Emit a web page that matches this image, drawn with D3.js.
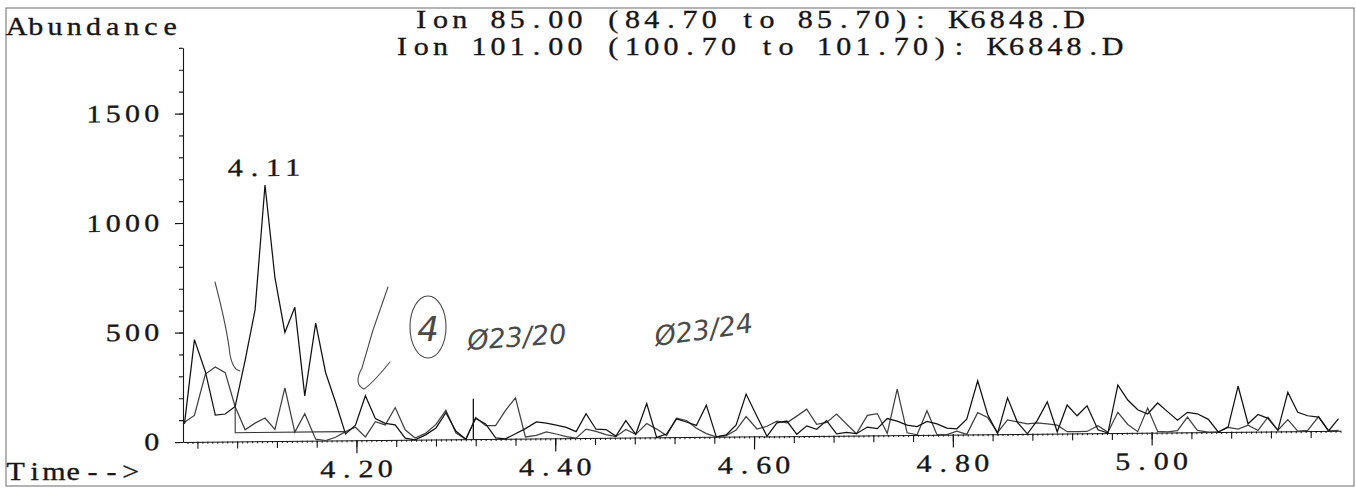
<!DOCTYPE html>
<html>
<head>
<meta charset="utf-8">
<script src="https://cdn.jsdelivr.net/npm/d3@7"></script>
<style>
  html, body { margin: 0; padding: 0; background: #fff; }
  svg { display: block; }
</style>
</head>
<body>
<svg id="chart" width="1356" height="488"></svg>
<script>
// Extracted ion chromatogram, K6848.D — ions 85 and 101, 4.03–5.19 min

const scanTimes = [
  4.027, 4.037, 4.048, 4.058, 4.068, 4.078, 4.088, 4.098, 4.108, 4.118,
  4.128, 4.138, 4.148, 4.159, 4.169, 4.179, 4.189, 4.199, 4.209, 4.219,
  4.229, 4.239, 4.249, 4.259, 4.270, 4.280, 4.290, 4.300, 4.310, 4.320,
  4.330, 4.340, 4.350, 4.360, 4.370, 4.381, 4.391, 4.401, 4.411, 4.421,
  4.431, 4.441, 4.451, 4.461, 4.471, 4.481, 4.492, 4.502, 4.512, 4.522,
  4.532, 4.542, 4.552, 4.562, 4.572, 4.582, 4.592, 4.603, 4.613, 4.623,
  4.633, 4.643, 4.653, 4.663, 4.673, 4.683, 4.693, 4.703, 4.714, 4.724,
  4.734, 4.744, 4.754, 4.764, 4.774, 4.784, 4.794, 4.804, 4.814, 4.825,
  4.835, 4.845, 4.855, 4.865, 4.875, 4.885, 4.895, 4.905, 4.915, 4.925,
  4.935, 4.946, 4.956, 4.966, 4.976, 4.986, 4.996, 5.006, 5.016, 5.026,
  5.036, 5.046, 5.057, 5.067, 5.077, 5.087, 5.097, 5.107, 5.117, 5.127,
  5.137, 5.147, 5.157, 5.168, 5.178, 5.188
];

// Ion 85.00 abundance per scan
const ion85 = [
    83, 467, 320, 121, 126, 160, 370, 600, 1170, 746,
   496, 610, 205, 537, 310, 175,  30,  69, 203,  99,
    76,  69,   8,   0,  23,  53, 122,  38,   0,  95,
    69,   5,   0,  23,  46,  76,  70,  61,  50,  30,
   111,  40,  38,   8,  78,  15, 155,   0,  15,  84,
    69,  53, 145,   0,   8,  53, 194,  91,   0,  61,
    69,   8,  46,  30,  69,   8,  15,   8,  38,  30,
    76,  64,  45,  38,  61,  49,  30,  26,  69, 244,
    90,   3, 165,  53,   0,  61, 145,   8, 130,  80,
   125,  15,   0, 218, 150, 105,  85, 135,  95,  55,
    91,  84,  58,   0,  23, 208,  36,  78,  60,   5,
   178,  86,  70,  63,   0,  56
];

// Ion 101.00 abundance per scan
const ion101 = [
    90, 121, 309, 341, 315, 159,  53,  83, 106,  53,
   243,  40, 124,   7,   0,  15,  40,  60,  15,  84,
    69, 148,  46,   8,  30,  69, 133,  30,   0,  99,
    61,  61, 130, 187,   8,  15,  30,  20,   8,   0,
    41,  30,  15,   5,  38,  15,  64,  38,   8,  87,
    76,  40,  15,   0,   5,  30,  91,  34,  46,  69,
    61,  91, 122,  53,  61,  99,  53,   8,  91,  99,
     8, 210,  10,   0, 110,   0,   0,  15,   0,  99,
    76,   8,  64,  55,  45,  50,  44,  38,   8,   8,
     8,  34,   3,  94,  38,   5, 112,   5,   3,   8,
    69,   8,   0,   0,  20,  12,  30,   5,  65,   5,
    53,   0,   3,  66,   0,   2
];

// header lines and the column each one starts in
const titleLines = [
  "Ion 85.00 (84.70 to 85.70): K6848.D",
  "Ion 101.00 (100.70 to 101.70): K6848.D"
];
const titleColumns = [1, 0];
const yTickValues = [0, 500, 1000, 1500];
const yTickLabels = ["0", "500", "1000", "1500"];
const xTickValues = [4.20, 4.40, 4.60, 4.80, 5.00];
const xTickLabels = ["4.20", "4.40", "4.60", "4.80", "5.00"];

// integrated peak: apex label and drawn baseline
const peakLabel = "4.11";
const peakTime = 4.108;
const peakAbundance = 1170;
const peakBaselineTimes = [4.078, 4.078, 4.1885];
const peakBaselineLevels = [160, 40, 40];

// expected-retention marker
const markerTimes = [4.3176];
const markerLevels = [185];

// hand-written notes on the printout
const noteTexts = ["4", "\u00d823/20", "\u00d823/24"];

// ---------------------------------------------------------------

const svg = d3.select("#chart");
const face = "'Liberation Serif', 'DejaVu Serif', serif";
const fontSize = 25;
const widen = 1.2;          // horizontal stretch of the printer glyphs
const cell = 19.2;          // printer character pitch
const ink = "#161616";

// fixed-pitch text: every character centred in its own cell
function gridText(parent, str, x0, yBase) {
  const xs = Array.from(str, (c, i) => ((x0 + (i + 0.5) * cell) / widen).toFixed(2)).join(" ");
  return parent.append("text")
    .attr("transform", `scale(${widen},1)`)
    .attr("x", xs).attr("y", yBase)
    .attr("text-anchor", "middle")
    .style("white-space", "pre")
    .attr("font-family", face).attr("font-size", fontSize)
    .attr("fill", ink).attr("stroke", ink).attr("stroke-width", 0.35)
    .text(str);
}

const x = d3.scaleLinear().domain([4.0255, 5.19]).range([183, 1340.5]);
const y = d3.scaleLinear().domain([0, 1800]).range([442, 47.8]);

// page frame
svg.append("rect")
  .attr("x", 6).attr("y", 8).attr("width", 1348).attr("height", 478)
  .attr("fill", "none").attr("stroke", "#6a6a6a").attr("stroke-width", 1);

// header
const header = svg.append("g");
titleLines.forEach((s, i) => gridText(header, s, 392.5 + titleColumns[i] * cell, 28 + i * 27));
gridText(svg, "Abundance", 7, 35);
gridText(svg, "Time-->", 6, 480);

// plot area, with the slight slant of the printed page
const tilt = 0.0097;
const plot = svg.append("g")
  .attr("transform", `translate(0,${(183 * tilt).toFixed(3)}) skewY(${(-Math.atan(tilt) * 180 / Math.PI).toFixed(4)})`);

// y axis
const yMinor = d3.range(0, 1801, 100);
plot.append("g").attr("transform", "translate(183,0)")
  .call(d3.axisLeft(y).tickValues(yMinor).tickSize(4).tickFormat("").tickSizeOuter(0))
  .call(g => g.selectAll("line,path").attr("stroke", ink).attr("stroke-width", 1.1));

plot.append("g").attr("transform", "translate(183,0)")
  .call(d3.axisLeft(y).tickValues(yTickValues).tickSize(8).tickFormat("").tickSizeOuter(0))
  .call(g => g.select(".domain").remove())
  .call(g => g.selectAll("line").attr("stroke", ink).attr("stroke-width", 1.1));

const yLabels = plot.append("g");
yTickValues.forEach((v, i) =>
  gridText(yLabels, yTickLabels[i], 161.3 - yTickLabels[i].length * cell, y(v) + 8));

// x axis
const xTiny = d3.range(4.03, 5.19, 0.005);
plot.append("g").attr("transform", `translate(0,${y(0)})`)
  .call(d3.axisBottom(x).tickValues(xTiny).tickSize(2).tickFormat("").tickSizeOuter(0))
  .call(g => g.selectAll("line,path").attr("stroke", ink).attr("stroke-width", 1));

const xMinor = d3.range(4.04, 5.17, 0.04);
plot.append("g").attr("transform", `translate(0,${y(0)})`)
  .call(d3.axisBottom(x).tickValues(xMinor).tickSize(7).tickFormat("").tickSizeOuter(0))
  .call(g => g.select(".domain").remove())
  .call(g => g.selectAll("line").attr("stroke", ink).attr("stroke-width", 1.1));

plot.append("g").attr("transform", `translate(0,${y(0)})`)
  .call(d3.axisBottom(x).tickValues(xTickValues).tickSize(13).tickFormat("").tickSizeOuter(0))
  .call(g => g.select(".domain").remove())
  .call(g => g.selectAll("line").attr("stroke", ink).attr("stroke-width", 1.2));

const xLabels = plot.append("g");
xTickValues.forEach((v, i) =>
  gridText(xLabels, xTickLabels[i], x(v) - xTickLabels[i].length * cell / 2, y(0) + 37));

// traces
const line = d3.line().x(d => x(d[0])).y(d => y(d[1]));
const traces = [
  { values: ion101, color: "#404040" },
  { values: ion85, color: "#111111" }
];
plot.append("g").selectAll("path").data(traces).join("path")
  .attr("d", s => line(scanTimes.map((t, i) => [t, s.values[i]])))
  .attr("fill", "none").attr("stroke", s => s.color)
  .attr("stroke-width", 1.25).attr("stroke-linejoin", "miter");

// integration baseline of the 4.11 peak
plot.append("path")
  .attr("d", line(peakBaselineTimes.map((t, i) => [t, peakBaselineLevels[i]])))
  .attr("fill", "none").attr("stroke", "#333").attr("stroke-width", 1.1);

// retention marker
plot.append("g").selectAll("line").data(markerTimes).join("line")
  .attr("x1", d => x(d)).attr("x2", d => x(d))
  .attr("y1", y(0)).attr("y2", (d, i) => y(markerLevels[i]))
  .attr("stroke", ink).attr("stroke-width", 1.3);

// apex label
gridText(plot, peakLabel, x(peakTime) - peakLabel.length * cell / 2 - 1, y(peakAbundance) - 9);

// pencil notes
const pencilInk = "#4a4a4a";
const pencil = svg.append("g").attr("fill", "none").attr("stroke", pencilInk)
  .attr("stroke-width", 1.1).attr("stroke-linecap", "round");
pencil.append("path").attr("d", "M215,282 C221,305 228,335 230,355 Q233,370 240,371");
pencil.append("path").attr("d", "M388,287 L373,330 L362,368 Q353,384 364,389 Q372,384 390,362");
pencil.append("ellipse").attr("cx", 428).attr("cy", 327).attr("rx", 18).attr("ry", 31);

const hand = "'DejaVu Sans', sans-serif";
svg.append("text").attr("x", 428).attr("y", 341).attr("text-anchor", "middle")
  .attr("font-family", hand).attr("font-style", "italic").attr("font-size", 34)
  .attr("fill", pencilInk).text(noteTexts[0]);
svg.append("text").attr("x", 468).attr("y", 350)
  .attr("transform", "rotate(-4 468 350)")
  .attr("font-family", hand).attr("font-style", "italic").attr("font-size", 27)
  .attr("fill", pencilInk).text(noteTexts[1]);
svg.append("text").attr("x", 656).attr("y", 346)
  .attr("transform", "rotate(-8 656 346)")
  .attr("font-family", hand).attr("font-style", "italic").attr("font-size", 27)
  .attr("fill", pencilInk).text(noteTexts[2]);
</script>
</body>
</html>
